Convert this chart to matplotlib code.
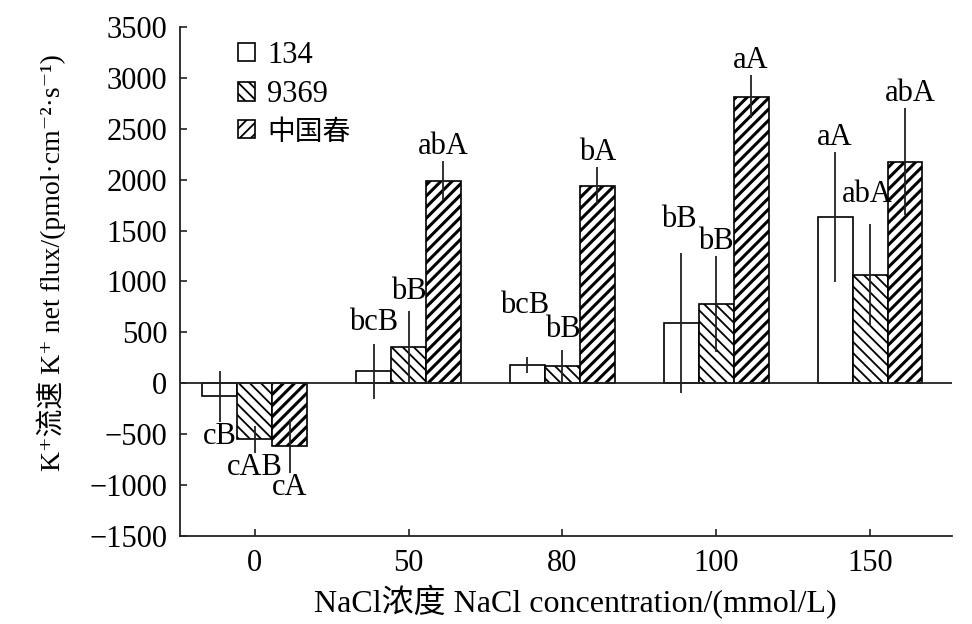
import numpy as np
import matplotlib
matplotlib.use("Agg")
import matplotlib.pyplot as plt

plt.rcParams['font.family'] = ['Liberation Serif', 'Noto Sans CJK SC', 'DejaVu Serif']
plt.rcParams['hatch.linewidth'] = 1.3
plt.rcParams['hatch.color'] = 'black'

# NaCl concentration groups (mmol/L)
groups = ['0', '50', '80', '100', '150']
varieties = ['134', '9369', '中国春']

# K+ net flux (pmol·cm-2·s-1)
flux_134 = [-130, 118, 177, 590, 1634]
flux_9369 = [-550, 354, 167, 778, 1063]
flux_cs = [-620, 1988, 1940, 2815, 2175]

err_134 = [250, 270, 80, 685, 635]
err_9369 = [130, 360, 160, 470, 500]
err_cs = [265, 190, 180, 210, 525]

sig_134 = ['cB', 'bcB', 'bcB', 'bB', 'aA']
sig_9369 = ['cAB', 'bB', 'bB', 'bB', 'abA']
sig_cs = ['cA', 'abA', 'bA', 'aA', 'abA']

values = [flux_134, flux_9369, flux_cs]
errors = [err_134, err_9369, err_cs]
sigs = [sig_134, sig_9369, sig_cs]
hatches = ['', '\\\\\\', '///']
hatch_lw = [1.0, 1.3, 2.2]

# extra lift of the letter labels (points), as placed in the original
lift = [[0, 5, 27, 14, 0],
        [0, 3, 4, 0, 11],
        [0, 0, 0, 0, 0]]
shift = [[0, 0, -2, -2, 0],
         [0, 0, 0, 0, -2],
         [0, 0, 0, 0, 4]]

fig = plt.figure(figsize=(9.72, 6.24), dpi=100)
ax = fig.add_axes([0.185, 0.141, 0.794, 0.816])

x = np.arange(len(groups))
w = 0.227
for i in range(3):
    pos = x + (i - 1) * w
    bars = ax.bar(pos, values[i], w, color='white', edgecolor='black', linewidth=1.2,
                  hatch=hatches[i], label=varieties[i], zorder=2)
    for b in bars:
        if hasattr(b, 'set_hatch_linewidth'):
            b.set_hatch_linewidth(hatch_lw[i])
    ax.errorbar(pos, values[i], yerr=errors[i], fmt='none', ecolor='#222222',
                elinewidth=1.3, capsize=0, zorder=3)
    for j, (p, v, e, s) in enumerate(zip(pos, values[i], errors[i], sigs[i])):
        if v >= 0:
            ax.annotate(s, (p, v + e), xytext=(shift[i][j], lift[i][j]),
                        textcoords='offset points', ha='center', va='bottom', fontsize=22)
        else:
            ax.annotate(s, (p, v - e), xytext=(shift[i][j], -lift[i][j]),
                        textcoords='offset points', ha='center', va='top', fontsize=22)

ax.axhline(0, color='#222222', linewidth=1.3, zorder=4)

ax.set_xlim(-0.487, 4.53)
ax.set_ylim(-1500, 3500)
ax.set_yticks(np.arange(-1500, 3501, 500))
ax.set_xticks(x)
ax.set_xticklabels(groups)
ax.tick_params(direction='in', labelsize=22, width=1.2, length=5, colors='#222222',
               labelcolor='black', pad=9)
for sp in ['top', 'right']:
    ax.spines[sp].set_visible(False)
for sp in ['left', 'bottom']:
    ax.spines[sp].set_linewidth(1.3)
    ax.spines[sp].set_color('#222222')

ax.set_xlabel('NaCl浓度 NaCl concentration/(mmol/L)', fontsize=23)
ax.xaxis.set_label_coords(0.513, -0.096)
ax.set_ylabel('K⁺流速 K⁺ net flux/(pmol·cm⁻²·s⁻¹)', fontsize=20)
ax.yaxis.set_label_coords(-0.148, 0.538)

leg = ax.legend(loc='upper left', bbox_to_anchor=(0.060, 0.997), frameon=False, fontsize=22,
                handlelength=0.55, handleheight=0.55, handletextpad=0.4, labelspacing=0.35,
                borderaxespad=0)
leg.get_texts()[2].set_fontsize(20)

plt.savefig('out.png', dpi=100)
